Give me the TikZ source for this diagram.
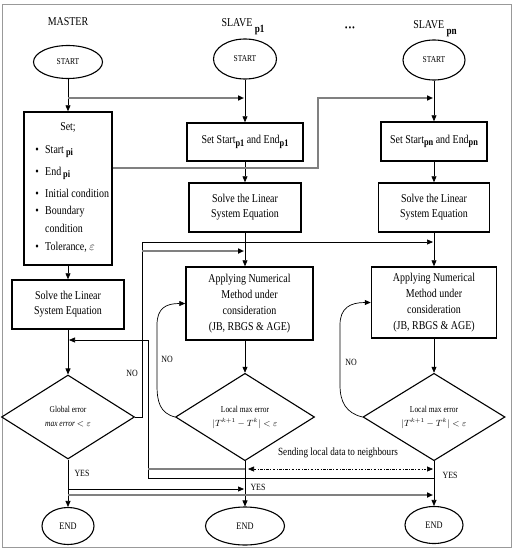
\documentclass[tikz,border=0pt]{standalone}
\usepackage{fontspec}
\setmainfont{Liberation Serif}[FakeStretch=0.83]
\usetikzlibrary{shapes.geometric,arrows.meta,calc}
\newcommand\subb[1]{\raisebox{-2.5pt}{\fontsize{10}{10}\selectfont\bfseries #1}}
\newcommand\subt[1]{\raisebox{-6pt}{\fontsize{11}{11}\selectfont\bfseries #1}}
\begin{document}
\begin{tikzpicture}[x=1pt,y=-1pt,
  font=\fontsize{12}{15}\selectfont,
  box/.style={draw, line width=1.5pt, inner sep=0pt, align=center},
  ell/.style={ellipse, draw, line width=1.1pt, inner sep=0pt, font=\fontsize{9}{9}\selectfont},
  dia/.style={diamond, draw, line width=1.1pt, inner sep=0pt, align=center, font=\fontsize{9}{14}\selectfont},
  conn/.style={draw, line width=0.7pt},
  gline/.style={draw=black!50, line width=1.6pt},
  arr/.style={-{Triangle[length=6pt,width=5pt,color=black]}},
  darr/.style={{Triangle[length=6pt,width=5pt,color=black]}-{Triangle[length=6pt,width=5pt,color=black]}},
  lbl/.style={font=\fontsize{9.5}{10}\selectfont, inner sep=0pt},
  txt/.style={inner sep=0pt, anchor=base west}
]
\useasboundingbox (0,0) rectangle (514,551);
\draw[black!40, line width=1pt] (2,5) rectangle (511,547);

% titles
\node[anchor=base] (tm) at (68,26) {MASTER};
\node[anchor=base] (tp1) at (243,27) {SLAVE \subt{p1}};
\node[anchor=base, font=\fontsize{8}{8}\selectfont\bfseries] (tdots) at (350,31) {\textbullet\,\textbullet\,\textbullet};
\node[anchor=base] (tpn) at (435,29) {SLAVE \subt{pn}};

% start ellipses
\node[ell, minimum width=69, minimum height=33] (ms) at (68,62) {START};
\node[ell, minimum width=63, minimum height=40] (p1s) at (245,59) {START};
\node[ell, minimum width=62, minimum height=40] (pns) at (434,60) {START};

% master boxes
\node[box, minimum width=88, minimum height=153] (mset) at (68,188.5) {};
\node[anchor=base, inner sep=0pt] (mset0) at (68,130) {Set;};
\node[anchor=base, inner sep=0pt] (b1) at (37,153) {\textbullet};
\node[txt] (mset1) at (45,153) {Start\,\subb{pi}};
\node[anchor=base, inner sep=0pt] (b2) at (37,175) {\textbullet};
\node[txt] (mset2) at (45,175) {End\,\subb{pi}};
\node[anchor=base, inner sep=0pt] (b3) at (37,197) {\textbullet};
\node[txt] (mset3) at (45,197) {Initial condition};
\node[anchor=base, inner sep=0pt] (b4) at (37,214) {\textbullet};
\node[txt] (mset4) at (45,214) {Boundary};
\node[txt] (mset5) at (45,232) {condition};
\node[anchor=base, inner sep=0pt] (b5) at (37,250) {\textbullet};
\node[txt] (mset6) at (45,250) {Tolerance, $\varepsilon$};

\node[box, minimum width=112, minimum height=49] (msolve) at (68,304.5) {Solve the Linear\\System Equation};

% slave p1 boxes
\node[box, minimum width=116, minimum height=38] (p1set) at (245,142) {Set Start\subb{p1} and End\subb{p1}};
\node[box, minimum width=112, minimum height=49] (p1solve) at (245,207.5) {Solve the Linear\\System Equation};
\node[box, minimum width=127, minimum height=73, font=\fontsize{12}{16}\selectfont] (p1app) at (249.5,303.5) {Applying Numerical\\Method under\\consideration\\(JB, RBGS \& AGE)};

% slave pn boxes
\node[box, minimum width=106, minimum height=39] (pnset) at (434,141.5) {Set Start\subb{pn} and End\subb{pn}};
\node[box, minimum width=111, minimum height=49] (pnsolve) at (434,207.5) {Solve the Linear\\System Equation};
\node[box, minimum width=125, minimum height=71, font=\fontsize{12}{16}\selectfont] (pnapp) at (434,302.5) {Applying Numerical\\Method under\\consideration\\(JB, RBGS \& AGE)};

% diamonds
\node[dia, minimum width=133, minimum height=84] (md) at (68,417) {Global error\\\textit{max error} $<\varepsilon$};
\node[dia, minimum width=139, minimum height=84] (p1d) at (245,417) {Local max error\\$|T^{k+1}-T^{k}|<\varepsilon$};
\node[dia, minimum width=142, minimum height=84] (pnd) at (434,417) {Local max error\\$|T^{k+1}-T^{k}|<\varepsilon$};

% end ellipses
\node[ell, minimum width=52, minimum height=37, font=\fontsize{10}{10}\selectfont] (me) at (68,526) {END};
\node[ell, minimum width=79, minimum height=38, font=\fontsize{10}{10}\selectfont] (p1e) at (245,526) {END};
\node[ell, minimum width=58, minimum height=37, font=\fontsize{10}{10}\selectfont] (pne) at (434,525) {END};

% master flow
\draw[conn,arr] (ms) -- (mset);
\draw[conn,arr] (mset) -- (msolve);
\draw[conn,arr] (msolve) -- (md);
\draw[conn,arr] (md) -- (me);

% p1 flow
\draw[conn,arr] (p1s) -- (p1set);
\draw[conn,arr] (p1set) -- (p1solve);
\draw[conn,arr] (p1solve.south) -- (p1solve.south |- p1app.north);
\draw[conn,arr] (p1solve.south |- p1app.south) -- (p1d.north);
\draw[conn,arr] (p1d) -- (p1e);

% pn flow
\draw[conn,arr] (pns) -- (pnset);
\draw[conn,arr] (pnset) -- (pnsolve);
\draw[conn,arr] (pnsolve) -- (pnapp);
\draw[conn,arr] (pnapp) -- (pnd);
\draw[conn,arr] (pnd) -- (pne);

% top distribution lines
\coordinate (mA) at (68,98);
\draw[gline,arr,shorten >=1pt] (mA) -- (mA -| p1s);
\coordinate (gB) at (318,168);
\draw[gline,arr,shorten >=1pt] (mset.east |- gB) -- (gB) -- (gB |- mA) -- (mA -| pns);

% bus
\coordinate (bT) at (142,242);
\coordinate (bG) at (142,251);
\draw[conn] (md.east) -- (md.east -| bT) -- (bT);
\draw[conn,arr,shorten >=1pt] (bT) -- (bT -| pns);
\draw[gline,arr,shorten >=1pt] (bG) -- (bG -| p1s);

% NO loop of master
\coordinate (nA) at (148,340);
\coordinate (nB) at (148,478);
\draw[conn,arr,shorten >=1pt] (nB -| pns) -- (nB) -- (nA) -- (nA -| ms);

% data exchange
\coordinate (gS) at (148,469);
\draw[gline] (gS) -- (gS -| p1s);
\draw[conn, line width=0.6pt, dash pattern=on 2.5pt off 1.5pt on 0.8pt off 1.5pt, darr, shorten >=1pt] ($(gS -| p1s)+(3,0)$) -- (gS -| pns);
\node[font=\fontsize{11}{11}\selectfont, inner sep=0pt] (send) at (338,453) {Sending local data to neighbours};

% YES lines
\coordinate (y1) at (68,489);
\draw[conn,arr,shorten >=1pt] (y1) -- (y1 -| p1s);
\coordinate (y2) at (68,495);
\draw[gline,arr,shorten >=1pt] (y2) -- (y2 -| pns);

% NO curves
\draw[conn,arr] (p1d.west) .. controls (160,413) and (157,402) .. (157,385) -- (157,325) .. controls (157,308) and (166,303.5) .. (p1app.west);
\draw[conn,arr] (pnd.west) .. controls (346,413) and (340,402) .. (340,385) -- (340,325) .. controls (340,308) and (350,302.5) .. (pnapp.west);

% labels
\node[lbl] (no1) at (132,373) {NO};
\node[lbl] (no2) at (167,359) {NO};
\node[lbl] (no3) at (351,362) {NO};
\node[lbl] (yes1) at (82,473) {YES};
\node[lbl] (yes2) at (258,487) {YES};
\node[lbl] (yes3) at (450,475) {YES};
\end{tikzpicture}
\end{document}
